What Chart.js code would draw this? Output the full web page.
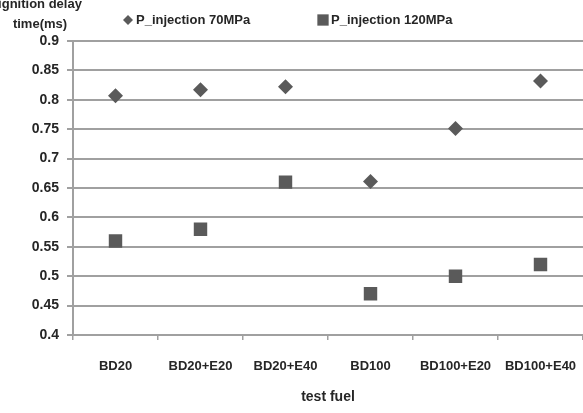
<!DOCTYPE html>
<html>
<head>
<meta charset="utf-8">
<script src="https://cdn.jsdelivr.net/npm/chart.js@4/dist/chart.umd.min.js"></script>
<style>
    html, body { margin: 0; padding: 0; background: #fff; }
    #wrap { width: 583px; height: 413px; }
</style>
</head>
<body>
<div id="wrap"><canvas id="chart" width="583" height="413"></canvas></div>
<script>
// test fuels on the x axis
const fuels = ['BD20', 'BD20+E20', 'BD20+E40', 'BD100', 'BD100+E20', 'BD100+E40'];
// ignition delay time (ms)
const delay70 = [0.807, 0.817, 0.822, 0.661, 0.751, 0.832];
const delay120 = [0.56, 0.58, 0.66, 0.47, 0.50, 0.52];
const seriesNames = ['P_injection 70MPa', 'P_injection 120MPa'];
const yTitleLines = ['ignition delay', 'time(ms)'];
const xTitle = 'test fuel';

const FONT = "'Liberation Sans', Arial, sans-serif";
const TEXT = '#262626';
const MARK = '#5a5a5a';
const GRID = '#a0a0a0';

/**
 * Draw legend and horizontal y-axis title above the plot
 */
const headerPlugin = {
    id: 'header',
    afterDraw(chart) {
        const ctx = chart.ctx;
        ctx.save();
        ctx.fillStyle = TEXT;
        ctx.font = `bold 13px ${FONT}`;
        ctx.textAlign = 'center';
        ctx.textBaseline = 'middle';
        ctx.fillText(yTitleLines[0], 40, 4);
        ctx.fillText(yTitleLines[1], 40, 24);

        // legend items
        const items = [
            { x: 128, style: 'rectRot', r: 5 },
            { x: 323, style: 'rect', r: 8 }
        ];
        ctx.font = `bold 13px ${FONT}`;
        ctx.textAlign = 'left';
        items.forEach((item, i) => {
            ctx.fillStyle = MARK;
            Chart.helpers.drawPoint(ctx, {
                pointStyle: item.style, radius: item.r, rotation: 0, borderWidth: 0
            }, item.x, 20);
            ctx.fillStyle = TEXT;
            ctx.fillText(seriesNames[i], item.x + 8, 20);
        });
        ctx.restore();
    }
};

const config = {
    type: 'line',
    data: {
        labels: fuels,
        datasets: [
            {
                label: seriesNames[0],
                data: delay70,
                showLine: false,
                pointStyle: 'rectRot',
                pointRadius: 7.5,
                pointBackgroundColor: MARK,
                pointBorderColor: MARK,
                pointBorderWidth: 0
            },
            {
                label: seriesNames[1],
                data: delay120,
                showLine: false,
                pointStyle: 'rect',
                pointRadius: 9.5,
                pointBackgroundColor: MARK,
                pointBorderColor: MARK,
                pointBorderWidth: 0
            }
        ]
    },
    options: {
        responsive: false,
        animation: false,
        layout: { autoPadding: false, padding: { top: 41, right: 0, left: 0, bottom: 0 } },
        plugins: {
            legend: { display: false },
            tooltip: { enabled: false }
        },
        scales: {
            x: {
                offset: true,
                grid: {
                    offset: true,
                    drawOnChartArea: false,
                    drawTicks: true,
                    tickLength: 5,
                    color: GRID,
                    lineWidth: 1.5
                },
                border: { color: GRID, width: 2 },
                ticks: {
                    color: TEXT,
                    font: { family: FONT, size: 13, weight: 'bold' },
                    padding: 19,
                    maxRotation: 0,
                    autoSkip: false
                },
                title: {
                    display: true,
                    text: xTitle,
                    color: TEXT,
                    font: { family: FONT, size: 14, weight: 'bold' },
                    padding: { top: 10, bottom: 7 }
                },
                afterFit: scale => {
                    scale.height = 78;
                    // keep plot running to the right edge
                    scale.paddingLeft = 0;
                    scale.paddingRight = 0;
                }
            },
            y: {
                min: 0.4,
                max: 0.9,
                ticks: {
                    stepSize: 0.05,
                    color: TEXT,
                    font: { family: FONT, size: 14, weight: 'bold' },
                    padding: 8,
                    callback: v => +v.toFixed(2)
                },
                grid: {
                    color: GRID,
                    lineWidth: 2,
                    tickLength: 6
                },
                border: { color: GRID, width: 2 },
                afterFit: scale => { scale.width = 73; }
            }
        }
    },
    plugins: [headerPlugin]
};

new Chart(document.getElementById('chart'), config);
</script>
</body>
</html>
